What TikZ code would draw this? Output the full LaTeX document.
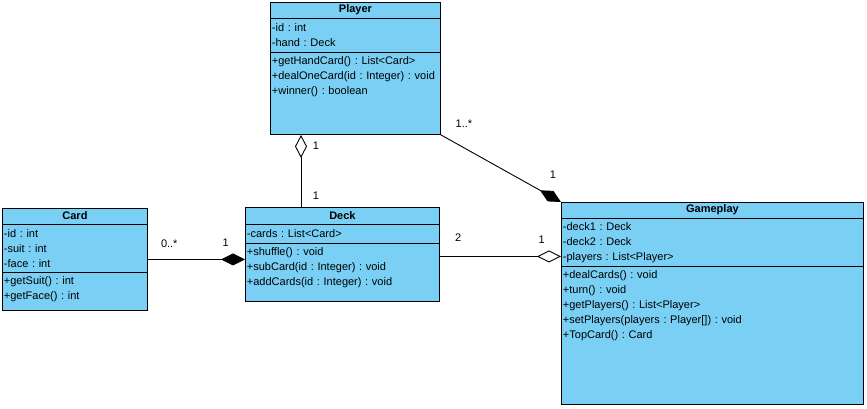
\documentclass[tikz,border=0pt]{standalone}
\usepackage{fontspec}
\setmainfont{Liberation Sans}
\usetikzlibrary{positioning,arrows.meta}
\definecolor{classblue}{RGB}{122,207,245}
\frenchspacing

\begin{document}
\begin{tikzpicture}[x=1pt,y=-1pt,line width=0.9pt,
    class node/.style={draw,fill=classblue,anchor=north west,inner sep=0pt},
    name node/.style={inner sep=0pt,minimum height=15pt,font=\fontsize{11}{13}\selectfont\bfseries},
    part node/.style={draw,align=left,inner xsep=1.5pt,inner ysep=0pt,font=\fontsize{11}{15}\selectfont},
    ops node/.style={part node,draw=none,inner ysep=3.5pt},
    mult/.style={inner sep=1pt,font=\fontsize{11}{13}\selectfont},
    aggregation/.style={{Diamond[open,fill=white,length=23pt,width=12pt]}-},
    aggregation end/.style={-{Diamond[open,fill=white,length=24pt,width=12pt]}},
    composition end/.style={-{Diamond[length=24pt,width=12pt]}}]
    \useasboundingbox (0,0) rectangle (867,408);

    % Player
    \node[class node,minimum width=170pt,minimum height=132pt] (player) at (270,2) {};
    \node[name node] (player name) [below=0pt of player.north] {Player};
    \node[part node,text width=167pt,minimum height=34pt] (player attr) [below=0pt of player name] {-id : int\\-hand : Deck};
    \node[ops node,text width=167pt] (player ops) [below=0pt of player attr] {+getHandCard() : List<Card>\\+dealOneCard(id : Integer) : void\\+winner() : boolean};

    % Card
    \node[class node,minimum width=145pt,minimum height=102pt] (card) at (2,208) {};
    \node[name node] (card name) [below=0pt of card.north] {Card};
    \node[part node,text width=142pt,minimum height=48pt] (card attr) [below=0pt of card name] {-id : int\\-suit : int\\-face : int};
    \node[ops node,text width=142pt] (card ops) [below=0pt of card attr] {+getSuit() : int\\+getFace() : int};

    % Deck
    \node[class node,minimum width=194pt,minimum height=94pt] (deck) at (245,207) {};
    \node[name node,minimum height=16pt] (deck name) [below=0pt of deck.north] {Deck};
    \node[part node,text width=191pt,minimum height=19pt] (deck attr) [below=0pt of deck name] {-cards : List<Card>};
    \node[ops node,text width=191pt] (deck ops) [below=0pt of deck attr] {+shuffle() : void\\+subCard(id : Integer) : void\\+addCards(id : Integer) : void};

    % Gameplay
    \node[class node,minimum width=302pt,minimum height=202pt] (gameplay) at (561,202) {};
    \node[name node] (gameplay name) [below=0pt of gameplay.north] {Gameplay};
    \node[part node,text width=299pt,minimum height=48pt] (gameplay attr) [below=0pt of gameplay name] {-deck1 : Deck\\-deck2 : Deck\\-players : List<Player>};
    \node[ops node,text width=299pt] (gameplay ops) [below=0pt of gameplay attr] {+dealCards() : void\\+turn() : void\\+getPlayers() : List<Player>\\+setPlayers(players : Player[]) : void\\+TopCard() : Card};

    \path
        ([xshift=31pt]player.south west) edge[aggregation]
            node[mult,pos=0.15,xshift=15pt] {1}
            node[mult,pos=0.85,xshift=15pt] {1}
        ([xshift=56pt]deck.north west)
        (card.east) edge[composition end]
            node[mult,pos=0.22,yshift=16pt] {0..*}
            node[mult,pos=0.8,yshift=17pt] {1}
        (card.east -| deck.west)
        ([yshift=-2pt]deck.east) edge[aggregation end]
            node[mult,pos=0.15,yshift=19pt] {2}
            node[mult,pos=0.84,yshift=17pt] {1}
        ([yshift=-2pt]deck.east -| gameplay.west)
        (player.south east) edge[composition end]
            node[mult,pos=0,xshift=23pt,yshift=11pt] {1..*}
            node[mult,pos=1,xshift=-8pt,yshift=27pt] {1}
        (gameplay.north west)
    ;
\end{tikzpicture}
\end{document}
